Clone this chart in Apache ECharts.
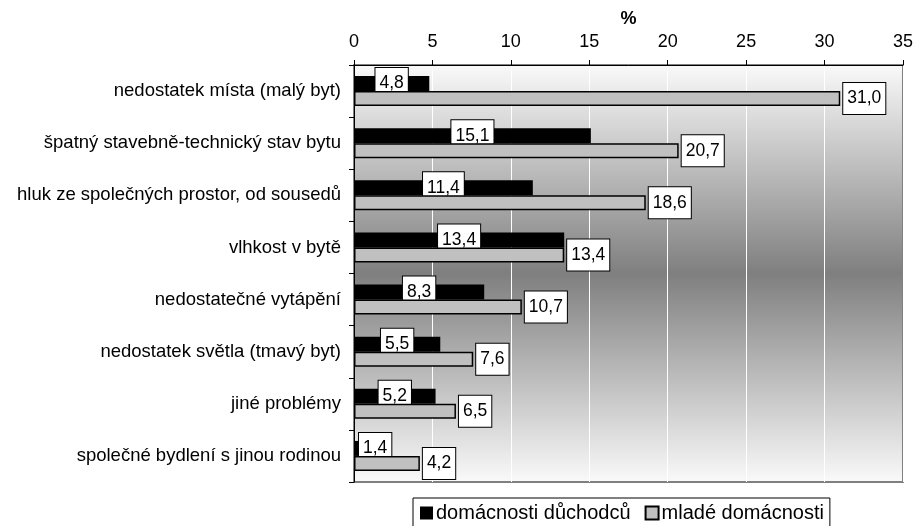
<!DOCTYPE html>
<html>
<head>
<meta charset="utf-8">
<script src="https://cdn.jsdelivr.net/npm/echarts@6/dist/echarts.min.js"></script>
<style>
html, body { margin: 0; padding: 0; background: #fff; }
#chart { width: 916px; height: 526px; }
</style>
</head>
<body>
<div id="chart"></div>
<script>
var categories = [
    "nedostatek místa (malý byt)",
    "špatný stavebně-technický stav bytu",
    "hluk ze společných prostor, od sousedů",
    "vlhkost v bytě",
    "nedostatečné vytápění",
    "nedostatek světla (tmavý byt)",
    "jiné problémy",
    "společné bydlení s jinou rodinou"
];
var duchodcu = [4.8, 15.1, 11.4, 13.4, 8.3, 5.5, 5.2, 1.4];
var mlade = [31.0, 20.7, 18.6, 13.4, 10.7, 7.6, 6.5, 4.2];
var seriesNames = ["domácnosti důchodců", "mladé domácnosti"];

var FONT = "Liberation Sans, Arial, sans-serif";

var fmt = function (p) {
    return p.value.toFixed(1).replace(".", ",");
};
var boxLabel = {
    show: true,
    formatter: fmt,
    fontFamily: FONT,
    fontSize: 17.5,
    color: "#000",
    backgroundColor: "#fff",
    borderColor: "#000",
    borderWidth: 1,
    padding: [7, 4, 6, 4]
};

// the smallest black bar is too short, its label goes to the right
var dataA = duchodcu.map(function (v) {
    if (v < 3) {
        return { value: v, label: { position: "insideLeft", distance: 5 } };
    }
    return v;
});

var chart = echarts.init(document.getElementById("chart"));
var option = {
    animation: false,
    backgroundColor: "#fff",
    textStyle: { fontFamily: FONT },
    grid: {
        left: 354,
        right: 12,
        top: 65,
        bottom: 44,
        show: true,
        borderColor: "#808080",
        borderWidth: 2,
        backgroundColor: {
            type: "linear", x: 0, y: 0, x2: 0, y2: 1,
            colorStops: [
                { offset: 0, color: "#fafafa" },
                { offset: 0.5, color: "#7f7f7f" },
                { offset: 1, color: "#fafafa" }
            ]
        }
    },
    legend: {
        left: 413,
        top: 498,
        data: seriesNames,
        icon: "rect",
        itemWidth: 13,
        itemHeight: 13,
        itemGap: 14,
        borderColor: "#000",
        borderWidth: 1,
        padding: [5, 6, 5, 7],
        textStyle: { fontFamily: FONT, fontSize: 20, color: "#000", padding: [0, 0, 0, -2] }
    },
    xAxis: {
        type: "value",
        position: "top",
        min: 0,
        max: 35,
        interval: 5,
        name: "%",
        nameLocation: "middle",
        nameGap: 37,
        nameTextStyle: { fontFamily: FONT, fontSize: 18, fontWeight: "bold", color: "#000" },
        axisLine: { show: true, lineStyle: { color: "#000", width: 1 } },
        axisTick: { show: true, length: 5, lineStyle: { color: "#000" } },
        axisLabel: { fontFamily: FONT, fontSize: 18, color: "#000", margin: 14 },
        splitLine: { show: true, lineStyle: { color: "#fff", width: 1 } }
    },
    yAxis: {
        type: "category",
        inverse: true,
        data: categories,
        axisLine: { show: true, lineStyle: { color: "#000", width: 1 } },
        axisTick: { show: true, length: 5, lineStyle: { color: "#000" } },
        axisLabel: { fontFamily: FONT, fontSize: 18.5, color: "#000", margin: 13 }
    },
    series: [
        {
            name: seriesNames[0],
            type: "bar",
            data: dataA,
            barWidth: 15,
            barGap: "0%",
            itemStyle: { color: "#000" },
            label: Object.assign({}, boxLabel, { position: "inside" }),
            z: 2
        },
        {
            name: seriesNames[1],
            type: "bar",
            data: mlade,
            barWidth: 15,
            barGap: "0%",
            itemStyle: { color: "#c0c0c0", borderColor: "#000", borderWidth: 1.5 },
            label: Object.assign({}, boxLabel, { position: "right", distance: 3 }),
            z: 3
        }
    ]
};
chart.setOption(option);
</script>
</body>
</html>
